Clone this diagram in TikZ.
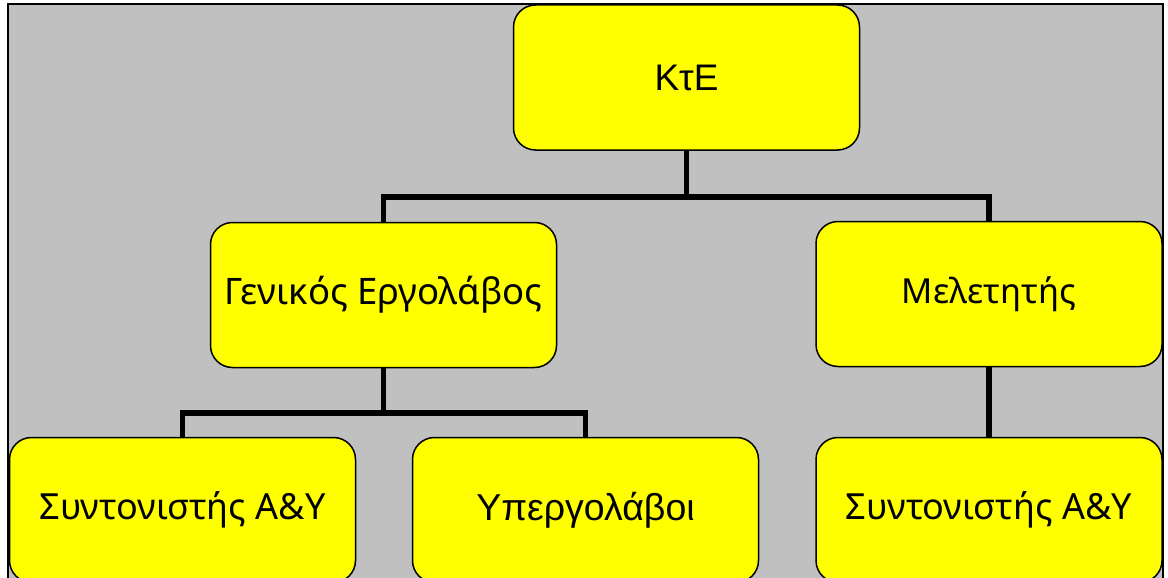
\documentclass[tikz,border=0pt]{standalone}
\usepackage{fontspec}
\setmainfont{Liberation Sans}
\newfontfamily\arialf{Liberation Sans}
\newfontfamily\humf{Noto Sans}
\definecolor{bggray}{HTML}{C0C0C0}
\definecolor{boxyellow}{HTML}{FFFF00}
\pgfdeclarelayer{bglayer}
\pgfdeclarelayer{midlayer}
\pgfsetlayers{bglayer,midlayer,main}
\tikzset{
  orgbox/.style={draw=black, line width=1.5pt, fill=boxyellow, rounded corners=22pt,
    minimum width=346pt, minimum height=145pt, inner sep=0pt, text=black, align=center},
  link/.style={draw=black, line width=5.5pt, line join=miter}
}
\begin{document}
\begin{tikzpicture}[x=1pt,y=-1pt]
\useasboundingbox (0,0) rectangle (1168,578);
\clip (0,0) rectangle (1168,578);
\begin{pgfonlayer}{bglayer}
\draw[fill=bggray, draw=black, line width=1.5pt] (8,4) rectangle (1163,600);
\end{pgfonlayer}
\node[orgbox] (kte) at (686.5,77.5) {\arialf\fontsize{37}{44}\selectfont KτE};
\node[orgbox] (gen) at (383.5,295) {\humf\fontsize{36.5}{42}\selectfont Γενικός Εργολάβος};
\node[orgbox] (mel) at (989,294) {\humf\fontsize{34.5}{40}\selectfont Μελετητής};
\node[orgbox] (synl) at (182.5,510) {\humf\fontsize{36}{42}\selectfont Συντονιστής Α\&Υ};
\node[orgbox] (yper) at (585.5,510) {\arialf\fontsize{37.5}{44}\selectfont Υπεργολάβοι};
\node[orgbox] (synr) at (989,510) {\humf\fontsize{36}{42}\selectfont Συντονιστής Α\&Υ};
\coordinate (bus1) at (686.5,197);
\coordinate (bus2) at (383.5,413);
\begin{pgfonlayer}{midlayer}
\draw[link] (kte.south) -- (bus1);
\draw[link] (gen.north) |- (bus1) -| (mel.north);
\draw[link] (gen.south) -- (bus2);
\draw[link] (synl.north) |- (bus2) -| (yper.north);
\draw[link] (mel.south) -- (synr.north);
\end{pgfonlayer}
\end{tikzpicture}
\end{document}
